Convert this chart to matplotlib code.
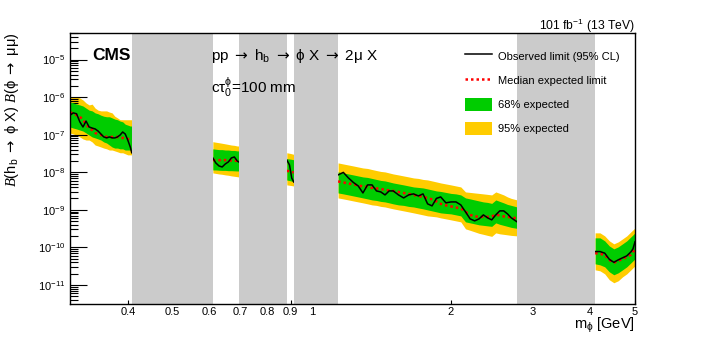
import matplotlib.pyplot as plt
import numpy as np
from matplotlib.lines import Line2D
from matplotlib.patches import Patch
from matplotlib.ticker import LogLocator, NullFormatter

plt.rcParams['font.family'] = ['Liberation Sans', 'DejaVu Sans']
plt.rcParams['mathtext.fontset'] = 'custom'
plt.rcParams['mathtext.rm'] = 'Liberation Sans'
plt.rcParams['mathtext.it'] = 'Liberation Sans:italic'
plt.rcParams['mathtext.bf'] = 'Liberation Sans:bold'
plt.rcParams['mathtext.sf'] = 'DejaVu Sans'
plt.rcParams['mathtext.cal'] = 'Liberation Serif:italic'

# mass windows that are vetoed (grey)
veto = [(0.408, 0.611), (0.695, 0.883), (0.914, 1.14), (2.78, 4.1)]

# segment 1, limits in units of 1e-7
m1 = [0.300, 0.305, 0.310, 0.315, 0.320, 0.325, 0.330, 0.335, 0.340, 0.345, 0.350, 0.355,
      0.360, 0.365, 0.370, 0.375, 0.380, 0.385, 0.390, 0.395, 0.400, 0.405, 0.408]
obs1 = [3.3, 3.8, 3.6, 2.2, 1.6, 2.3, 1.6, 1.5, 1.42, 1.25, 1.04, 0.87, 0.82, 0.87, 0.82, 0.82,
        0.87, 0.98, 1.18, 1.04, 0.72, 0.47, 0.33]
exp1 = [3.8, 3.8, 3.3, 3.0, 2.5, 1.9, 1.5, 1.33, 1.11, 1.04, 0.98, 0.92, 0.87, 0.87, 0.87, 0.87,
        0.87, 0.82, 0.82, 0.77, 0.77, 0.72, 0.72]
hi68_1 = [7.4, 7.0, 6.5, 6.2, 5.8, 5.1, 4.5, 4.3, 3.8, 3.6, 3.3, 3.1, 3.0, 3.0, 2.8, 2.6, 2.5,
          2.3, 2.2, 1.9, 1.8, 1.7, 1.7]
lo68_1 = [1.6, 1.5, 1.42, 1.33, 1.25, 1.11, 0.98, 0.87, 0.82, 0.77, 0.72, 0.64, 0.60, 0.53,
          0.47, 0.44, 0.44, 0.42, 0.42, 0.39, 0.39, 0.39, 0.39]
hi95_1 = [10.1, 10.1, 10.1, 9.5, 8.4, 7.0, 6.2, 6.5, 5.1, 4.5, 4.3, 4.3, 4.3, 4.0, 3.8, 3.1, 2.8,
          2.5, 2.5, 2.5, 2.5, 2.5, 2.5]
lo95_1 = [1.11, 1.04, 0.98, 0.87, 0.77, 0.72, 0.72, 0.64, 0.53, 0.50, 0.47, 0.44, 0.42, 0.39,
          0.39, 0.37, 0.35, 0.33, 0.33, 0.31, 0.29, 0.29, 0.29]

# segment 2, units of 1e-8
m2 = [0.611, 0.62, 0.63, 0.64, 0.65, 0.66, 0.67, 0.68, 0.69, 0.695]
obs2 = [2.4, 1.77, 1.47, 1.38, 1.66, 1.88, 2.4, 2.55, 2.0, 1.88]
exp2 = [2.1, 2.1, 2.1, 2.1, 2.1, 2.1, 2.05, 2.05, 2.0, 2.0]
hi68_2 = [4.2, 4.1, 4.0, 4.0, 3.9, 3.9, 3.8, 3.8, 3.7, 3.7]
lo68_2 = [1.15, 1.15, 1.13, 1.12, 1.12, 1.1, 1.1, 1.09, 1.08, 1.08]
hi95_2 = [6.5, 6.3, 6.1, 5.9, 5.7, 5.5, 5.3, 5.2, 5.0, 5.0]
lo95_2 = [0.96, 0.93, 0.9, 0.88, 0.85, 0.83, 0.8, 0.78, 0.76, 0.75]

# segment 3, units of 1e-8
m3 = [0.883, 0.895, 0.905, 0.914]
obs3 = [2.12, 1.56, 0.70, 0.55]
exp3 = [1.1, 1.05, 1.0, 1.0]
hi68_3 = [2.3, 2.25, 2.2, 2.15]
lo68_3 = [0.62, 0.6, 0.58, 0.56]
hi95_3 = [3.3, 3.2, 3.1, 3.0]
lo95_3 = [0.46, 0.45, 0.44, 0.43]

# segment 4, units of 1e-9
m4 = [1.14, 1.17, 1.20, 1.23, 1.26, 1.29, 1.32, 1.35, 1.38, 1.41, 1.44, 1.47, 1.50, 1.54,
      1.58, 1.62, 1.66, 1.70, 1.74, 1.78, 1.82, 1.86, 1.90, 1.95, 2.00, 2.05, 2.10, 2.15,
      2.20, 2.25, 2.30, 2.35, 2.40, 2.45, 2.50, 2.55, 2.60, 2.65, 2.70, 2.78]
obs4 = [8.48, 9.9, 7.05, 5.35, 4.32, 2.81, 4.60, 4.60, 3.18, 2.99, 2.49, 3.18, 3.18, 2.49,
        2.07, 2.49, 2.65, 2.34, 2.65, 1.44, 1.27, 2.01, 2.20, 1.53, 1.62, 1.62, 1.35, 0.88,
        0.573, 0.507, 0.573, 0.732, 0.609, 0.539, 0.732, 0.935, 0.935, 0.778, 0.609, 0.477]
exp4 = [5.7, 5.35, 5.03, 4.74, 4.46, 4.19, 4.06, 3.82, 3.71, 3.60, 3.38, 3.28, 3.18, 2.99,
        2.81, 2.65, 2.49, 2.34, 2.20, 2.07, 1.89, 1.67, 1.44, 1.31, 1.23, 1.15, 1.09, 0.88,
        0.732, 0.668, 0.648, 0.648, 0.648, 0.668, 0.732, 0.71, 0.668, 0.648, 0.628, 0.59]
hi68_4 = [10.2, 9.58, 9.01, 8.48, 7.97, 7.50, 7.27, 6.84, 6.43, 6.05, 5.87, 5.52, 5.19, 4.88,
          4.60, 4.32, 4.06, 3.94, 3.82, 3.60, 3.38, 3.18, 3.08, 2.90, 2.73, 2.65, 2.49, 2.07,
          1.95, 1.83, 1.72, 1.62, 1.57, 1.48, 1.83, 1.67, 1.53, 1.39, 1.31, 1.19]
lo68_4 = [2.81, 2.65, 2.49, 2.34, 2.20, 2.07, 1.95, 1.83, 1.77, 1.67, 1.62, 1.53, 1.44, 1.35,
          1.31, 1.23, 1.19, 1.12, 1.06, 0.994, 0.935, 0.880, 0.828, 0.80, 0.778, 0.732, 0.688,
          0.477, 0.448, 0.422, 0.397, 0.385, 0.373, 0.362, 0.448, 0.41, 0.385, 0.362, 0.34, 0.32]
hi95_4 = [17.7, 16.6, 15.6, 14.7, 13.8, 13.0, 12.6, 11.8, 11.1, 10.5, 10.2, 9.58, 9.01, 8.48,
          7.97, 7.50, 7.05, 6.84, 6.43, 6.24, 5.87, 5.52, 5.19, 4.88, 4.60, 4.32, 4.06, 2.99,
          2.9, 2.81, 2.73, 2.65, 2.57, 2.49, 2.99, 2.73, 2.49, 2.20, 2.01, 1.83]
lo95_4 = [2.07, 1.95, 1.83, 1.72, 1.62, 1.53, 1.44, 1.35, 1.31, 1.23, 1.19, 1.12, 1.06, 0.994,
          0.935, 0.880, 0.828, 0.778, 0.732, 0.688, 0.668, 0.648, 0.609, 0.573, 0.539, 0.507,
          0.477, 0.311, 0.284, 0.259, 0.236, 0.222, 0.208, 0.196, 0.243, 0.229, 0.222, 0.215,
          0.208, 0.202]

# segment 5, units of 1e-11
m5 = [4.1, 4.2, 4.3, 4.4, 4.5, 4.6, 4.7, 4.8, 4.9, 4.95, 5.0]
obs5 = [7.73, 7.73, 7.01, 4.80, 3.99, 4.65, 5.26, 5.94, 7.59, 9.12, 14.0]
exp5 = [7.01, 6.72, 6.32, 4.65, 3.87, 4.37, 4.94, 5.59, 6.32, 7.59, 8.58]
hi68_5 = [17.9, 17.9, 14.9, 10.9, 9.12, 10.3, 12.4, 14.9, 19.0, 21.5, 24.3]
lo68_5 = [3.64, 3.42, 3.03, 2.23, 1.86, 2.10, 2.52, 3.03, 3.87, 4.37, 4.94]
hi95_5 = [24.3, 24.3, 20.2, 14.9, 12.4, 14.0, 16.8, 20.2, 25.9, 29.2, 33.0]
lo95_5 = [2.52, 2.37, 1.97, 1.37, 1.14, 1.29, 1.64, 1.97, 2.52, 2.85, 3.22]

segments = [
    (m1, obs1, exp1, lo68_1, hi68_1, lo95_1, hi95_1, 1e-7),
    (m2, obs2, exp2, lo68_2, hi68_2, lo95_2, hi95_2, 1e-8),
    (m3, obs3, exp3, lo68_3, hi68_3, lo95_3, hi95_3, 1e-8),
    (m4, obs4, exp4, lo68_4, hi68_4, lo95_4, hi95_4, 1e-9),
    (m5, obs5, exp5, lo68_5, hi68_5, lo95_5, hi95_5, 1e-11),
]

yticks = [1e-11, 1e-10, 1e-9, 1e-8, 1e-7, 1e-6, 1e-5]
ytick_labels = ['$10^{-11}$', '$10^{-10}$', '$10^{-9}$', '$10^{-8}$', '$10^{-7}$',
                '$10^{-6}$', '$10^{-5}$']
xminor = [0.4, 0.5, 0.6, 0.7, 0.8, 0.9, 2, 3, 4, 5]

green = '#00cc00'
yellow = '#ffcc00'
grey = '#cbcbcb'
arrow = r'$\mathsf{\rightarrow}$'

fig = plt.figure(figsize=(7.06, 3.38), dpi=100)
ax = fig.add_axes([70 / 706, 1 - 304 / 338, 565 / 706, 271 / 338])

for m, obs, exp, lo68, hi68, lo95, hi95, unit in segments:
    s = unit
    ax.fill_between(m, np.array(lo95) * s, np.array(hi95) * s, color=yellow, lw=0, zorder=1)
    ax.fill_between(m, np.array(lo68) * s, np.array(hi68) * s, color=green, lw=0, zorder=2)
    ax.plot(m, np.array(exp) * s, color='red', ls=(0, (1, 1.2)), lw=1.8, zorder=3)
    ax.plot(m, np.array(obs) * s, color='black', lw=1.1, zorder=3)

for lo, hi in veto:
    ax.axvspan(lo, hi, color=grey, lw=0, zorder=4)

ax.set_xscale('log')
ax.set_yscale('log')
ax.set_xlim(0.3, 5)
ax.set_ylim(3.1e-12, 5.1e-5)

ax.set_xticks([1], ['1'])
ax.set_xticks(xminor, [str(v) for v in xminor], minor=True)
ax.tick_params(axis='x', which='major', direction='in', length=5.8, width=0.8, pad=2.5,
               labelsize=8)
ax.tick_params(axis='x', which='minor', direction='in', length=3, width=0.8, pad=2.5,
               labelsize=8)

ax.set_yticks(yticks, ytick_labels)
ax.yaxis.set_minor_locator(LogLocator(base=10, subs=np.arange(2, 10), numticks=20))
ax.yaxis.set_minor_formatter(NullFormatter())
ax.tick_params(axis='y', which='major', direction='in', length=12, width=0.8, pad=3.5,
               labelsize=8)
ax.tick_params(axis='y', which='minor', direction='in', length=6, width=0.8)

for sp in ax.spines.values():
    sp.set_linewidth(1.0)
    sp.set_zorder(6)

ax.text(0.039, 0.902, 'CMS', transform=ax.transAxes, fontsize=12.5, weight='bold',
        va='baseline', zorder=7)
ax.text(0.2496, 0.900, f'pp {arrow} h$_{{\\rm b}}$ {arrow} ϕ X {arrow} 2μ X',
        transform=ax.transAxes, fontsize=11, va='baseline', zorder=7)
ax.text(0.2496, 0.780, 'cτ$_{0}^{\\mathrm{ϕ}}$=100 mm', transform=ax.transAxes,
        fontsize=11, va='baseline', zorder=7)

fig.text(635 / 706, 1 - 30 / 338, '101 fb$^{-1}$ (13 TeV)', ha='right', va='baseline',
         fontsize=8.7)
fig.text(635 / 706, 1 - 329 / 338, 'm$_{\\mathrm{ϕ}}$ [GeV]', ha='right', va='baseline',
         fontsize=10.5)
fig.text(12 / 706, 1 - 33 / 338,
         f'$\\mathcal{{B}}$(h$_{{\\rm b}}$ {arrow} ϕ X) $\\mathcal{{B}}$(ϕ {arrow} μμ)',
         rotation=90, ha='center', va='top', fontsize=10.5)

handles = [Line2D([], [], color='black', lw=1.1),
           Line2D([], [], color='red', ls=(0, (1, 1.2)), lw=1.8),
           Patch(facecolor=green, lw=0),
           Patch(facecolor=yellow, lw=0)]
labels = ['Observed limit (95% CL)', 'Median expected limit', '68% expected', '95% expected']
leg = ax.legend(handles, labels, loc='upper left', bbox_to_anchor=(0.699, 0.94),
                frameon=False, fontsize=8, handlelength=2.45, handleheight=1.45,
                labelspacing=1.0, handletextpad=0.5, borderpad=0, borderaxespad=0)
leg.set_zorder(8)

fig.savefig('out.png', dpi=100)
